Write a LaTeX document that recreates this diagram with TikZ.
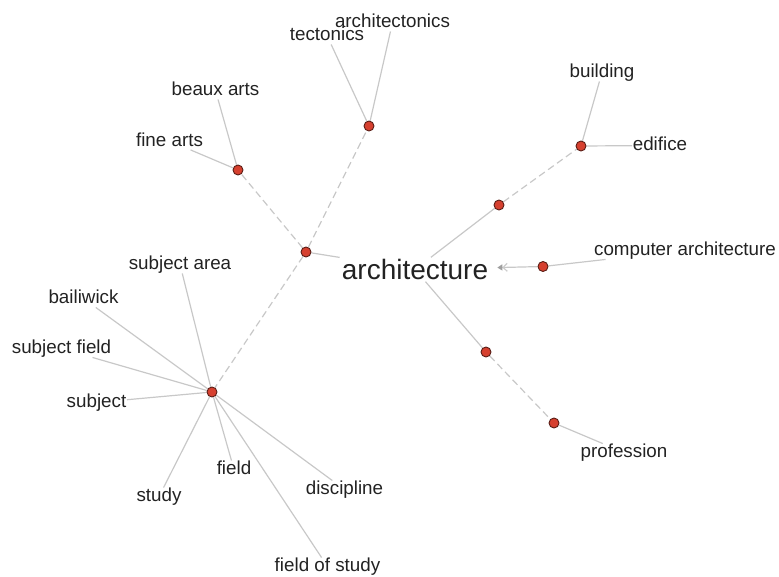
\documentclass[tikz,border=0pt]{standalone}
\usepackage{fontspec}
\setmainfont{Liberation Sans}
\usetikzlibrary{arrows.meta,backgrounds}
\definecolor{dotred}{HTML}{D6402F}
\definecolor{dotrim}{HTML}{5A1E16}
\definecolor{edgegray}{HTML}{C8C8C8}
\definecolor{labelink}{HTML}{222222}
\begin{document}
\begin{tikzpicture}[x=1pt,y=-1pt,
	dot/.style={circle,fill=dotred,draw=dotrim,line width=0.9pt,minimum size=10pt,inner sep=0pt},
	lbl/.style={text=labelink,font=\fontsize{18.8}{20}\selectfont,inner sep=0.5pt,text height=13.5pt,text depth=3pt},
	link/.style={draw=edgegray,line width=1.2pt},
	hop/.style={link,dash pattern=on 7pt off 4pt}]
	\useasboundingbox (0,0) rectangle (779,576);
	% centre word
	\node[text=labelink,font=\fontsize{28}{30}\selectfont,inner sep=2pt,text height=20pt,text depth=0pt] (arch) at (415,269.5) {architecture};
	% junction dots
	\node[dot] (hA) at (306,252) {};
	\node[dot] (hF) at (238,170) {};
	\node[dot] (hT) at (369,126) {};
	\node[dot] (hS) at (212,392) {};
	\node[dot] (hR) at (499,205) {};
	\node[dot] (hB) at (581,146) {};
	\node[dot] (hC) at (543,266.5) {};
	\node[dot] (hP) at (486,352) {};
	\node[dot] (hQ) at (554,423) {};
	% leaf words
	\node[lbl] (tect) at (327,35.5) {tectonics};
	\node[lbl] (archt) at (392.5,22.5) {architectonics};
	\node[lbl] (beaux) at (215.5,90.5) {beaux arts};
	\node[lbl] (fine) at (169.5,141) {fine arts};
	\node[lbl] (build) at (602,72.5) {building};
	\node[lbl] (edif) at (660,145.5) {edifice};
	\node[lbl] (comp) at (685,250.5) {computer architecture};
	\node[lbl] (prof) at (624,452.5) {profession};
	\node[lbl] (sarea) at (180,264.5) {subject area};
	\node[lbl] (baili) at (83.5,298.5) {bailiwick};
	\node[lbl] (sfield) at (61.5,348.5) {subject field};
	\node[lbl] (subj) at (96.5,402.5) {subject};
	\node[lbl] (field) at (234,469.5) {field};
	\node[lbl] (study) at (159,496.5) {study};
	\node[lbl] (disc) at (344.5,489.5) {discipline};
	\node[lbl] (fos) at (327.5,566.5) {field of study};
	\begin{scope}[on background layer]
		\draw[link] (hA) -- (arch);
		\draw[link] (arch) -- (hR);
		\draw[link] (arch) -- (hP);
		\draw[link,shorten >=7pt,-{Straight Barb[length=4pt,width=8pt,color=gray!40]Triangle[length=5pt,width=6pt,color=gray!75]}] (hC) -- (arch);
		\foreach \a/\b in {hA/hF,hA/hT,hA/hS,hR/hB,hP/hQ}
			\draw[hop] (\a) -- (\b);
		\foreach \a/\b in {hT/tect,hT/archt,hF/beaux,hF/fine,hB/build,hB/edif,hC/comp,hQ/prof,
			hS/sarea,hS/baili,hS/sfield,hS/subj,hS/field,hS/study,hS/disc,hS/fos}
			\draw[link] (\a) -- (\b);
	\end{scope}
\end{tikzpicture}
\end{document}
